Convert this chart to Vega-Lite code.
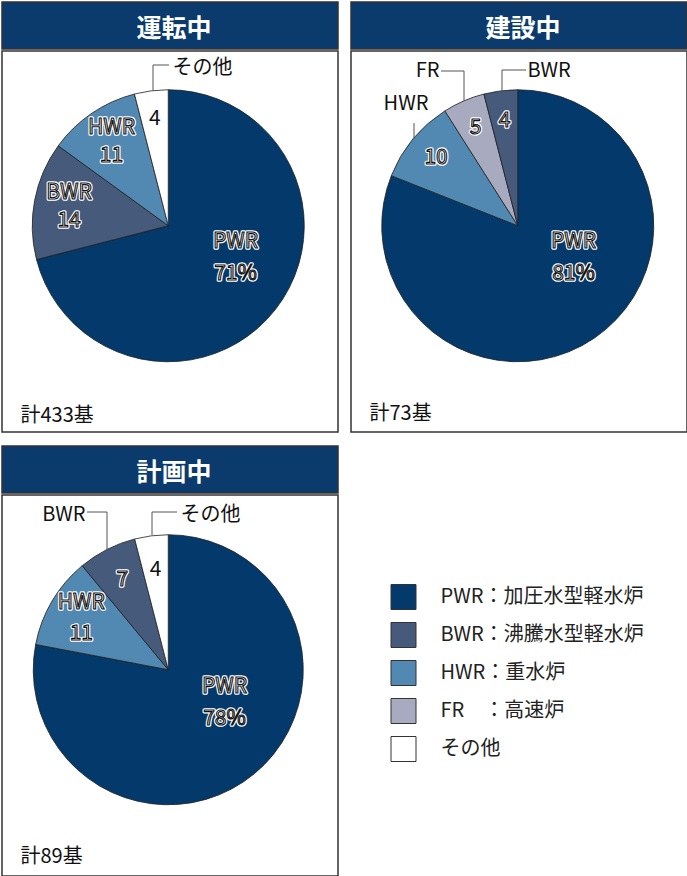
{
  "$schema": "https://vega.github.io/schema/vega-lite/v6.json",
  "padding": {"top": 1, "left": 1, "right": 0, "bottom": 0},
  "background": "white",
  "config": {"font": "Noto Sans CJK JP", "view": {"stroke": null}},
  "datasets": {
    "op": [
      {"type": "PWR", "value": 71, "ord": 1, "inner": "PWR\n71%"},
      {"type": "BWR", "value": 14, "ord": 2, "inner": "BWR\n14"},
      {"type": "HWR", "value": 11, "ord": 3, "inner": "HWR\n11"},
      {"type": "その他", "value": 4, "ord": 4, "inner": "4"}
    ],
    "con": [
      {"type": "PWR", "value": 81, "ord": 1, "inner": "PWR\n81%"},
      {"type": "HWR", "value": 10, "ord": 2, "inner": "10"},
      {"type": "FR", "value": 5, "ord": 3, "inner": "5"},
      {"type": "BWR", "value": 4, "ord": 4, "inner": "4"}
    ],
    "plan": [
      {"type": "PWR", "value": 78, "ord": 1, "inner": "PWR\n78%"},
      {"type": "HWR", "value": 11, "ord": 2, "inner": "HWR\n11"},
      {"type": "BWR", "value": 7, "ord": 3, "inner": "7"},
      {"type": "その他", "value": 4, "ord": 4, "inner": "4"}
    ],
    "legend": [
      {"type": "PWR", "label": "PWR：加圧水型軽水炉"},
      {"type": "BWR", "label": "BWR：沸騰水型軽水炉"},
      {"type": "HWR", "label": "HWR：重水炉"},
      {"type": "FR", "label": "FR　：高速炉"},
      {"type": "その他", "label": "その他"}
    ]
  },
  "spacing": 12,
  "vconcat": [
    {
      "spacing": 11,
      "hconcat": [
        {
          "spacing": 0,
          "vconcat": [
            {
              "width": 336, "height": 47,
              "view": {"fill": "#0a3b6c", "stroke": "#333333", "strokeWidth": 1.5},
              "data": {"values": [{"title": "運転中"}]},
              "mark": {"type": "text", "fontSize": 25, "fontWeight": "bold", "color": "white", "dx": 4, "dy": 3},
              "encoding": {"text": {"field": "title", "type": "nominal"}}
            },
            {
              "width": 336, "height": 381,
              "view": {"fill": "white", "stroke": "#333333", "strokeWidth": 1.5},
              "data": {"name": "op"},
              "layer": [
                {
                  "mark": {"type": "arc", "radius": 136, "stroke": "#1e1e1e", "strokeWidth": 0.8, "xOffset": -1.75, "yOffset": -15.75},
                  "encoding": {
                    "theta": {"field": "value", "type": "quantitative", "stack": true},
                    "order": {"field": "ord", "type": "quantitative"},
                    "color": {"field": "type", "type": "nominal", "legend": null,
                      "scale": {"domain": ["PWR", "BWR", "HWR", "FR", "その他"], "range": ["#033a6b", "#465a7c", "#5189b3", "#a8abc0", "#ffffff"]}}
                  }
                },
                {
                  "mark": {"type": "text", "radius": 101, "xOffset": -1.75, "yOffset": -15.75, "dy": -14, "fontSize": 21, "lineBreak": "\n", "lineHeight": 28, "fill": "white", "stroke": "white", "strokeWidth": 3.5, "strokeJoin": "round"},
                  "encoding": {
                    "theta": {"field": "value", "type": "quantitative", "stack": true},
                    "order": {"field": "ord", "type": "quantitative"},
                    "detail": {"field": "type", "type": "nominal"},
                    "text": {"condition": {"test": "datum.type === 'BWR' || datum.type === 'HWR'", "field": "inner", "type": "nominal"}, "value": ""}
                  }
                },
                {
                  "mark": {"type": "text", "radius": 101, "xOffset": -1.75, "yOffset": -15.75, "dy": -14, "fontSize": 21, "lineBreak": "\n", "lineHeight": 28, "fill": "white", "stroke": "#111111", "strokeWidth": 1.1},
                  "encoding": {
                    "theta": {"field": "value", "type": "quantitative", "stack": true},
                    "order": {"field": "ord", "type": "quantitative"},
                    "detail": {"field": "type", "type": "nominal"},
                    "text": {"condition": {"test": "datum.type === 'BWR' || datum.type === 'HWR'", "field": "inner", "type": "nominal"}, "value": ""}
                  }
                },
                {
                  "mark": {"type": "text", "radius": 108, "xOffset": -1.75, "yOffset": -15.75, "fontSize": 21, "color": "#111111"},
                  "encoding": {
                    "theta": {"field": "value", "type": "quantitative", "stack": true},
                    "order": {"field": "ord", "type": "quantitative"},
                    "detail": {"field": "type", "type": "nominal"},
                    "text": {"condition": {"test": "datum.type === 'その他'", "field": "inner", "type": "nominal"}, "value": ""}
                  }
                },
                {
                  "transform": [{"filter": "datum.type === 'PWR'"}],
                  "mark": {"type": "text", "dx": 65.5, "dy": 0.5, "fontSize": 21, "lineBreak": "\n", "lineHeight": 32, "fill": "white", "stroke": "white", "strokeWidth": 3.5, "strokeJoin": "round"},
                  "encoding": {"text": {"field": "inner", "type": "nominal"}}
                },
                {
                  "transform": [{"filter": "datum.type === 'PWR'"}],
                  "mark": {"type": "text", "dx": 65.5, "dy": 0.5, "fontSize": 21, "lineBreak": "\n", "lineHeight": 32, "fill": "white", "stroke": "#111111", "strokeWidth": 1.1},
                  "encoding": {"text": {"field": "inner", "type": "nominal"}}
                },
                {
                  "transform": [{"filter": "datum.type === 'その他'"}],
                  "mark": {"type": "text", "align": "left", "dx": 2.5, "dy": -173.5, "fontSize": 20, "color": "#111111"},
                  "encoding": {"text": {"field": "type", "type": "nominal"}}
                },
                {
                  "transform": [{"filter": "datum.type === 'その他'"}],
                  "mark": {"type": "rule", "color": "#555555", "strokeWidth": 1},
                  "encoding": {"x": {"value": 151}, "y": {"value": 14}, "x2": {"value": 167}, "y2": {"value": 14}}
                },
                {
                  "transform": [{"filter": "datum.type === 'その他'"}],
                  "mark": {"type": "rule", "color": "#555555", "strokeWidth": 1},
                  "encoding": {"x": {"value": 151}, "y": {"value": 14}, "x2": {"value": 151}, "y2": {"value": 40}}
                },
                {
                  "data": {"values": [{"total": "計433基"}]},
                  "mark": {"type": "text", "align": "left", "dx": -149.5, "dy": 174.5, "fontSize": 20, "color": "#111111"},
                  "encoding": {"text": {"field": "total", "type": "nominal"}}
                }
              ]
            }
          ]
        },
        {
          "spacing": 0,
          "vconcat": [
            {
              "width": 336, "height": 47,
              "view": {"fill": "#0a3b6c", "stroke": "#333333", "strokeWidth": 1.5},
              "data": {"values": [{"title": "建設中"}]},
              "mark": {"type": "text", "fontSize": 25, "fontWeight": "bold", "color": "white", "dx": 4, "dy": 3},
              "encoding": {"text": {"field": "title", "type": "nominal"}}
            },
            {
              "width": 336, "height": 381,
              "view": {"fill": "white", "stroke": "#333333", "strokeWidth": 1.5},
              "data": {"name": "con"},
              "layer": [
                {
                  "mark": {"type": "arc", "radius": 136, "stroke": "#1e1e1e", "strokeWidth": 0.8, "xOffset": -1.25, "yOffset": -15.75},
                  "encoding": {
                    "theta": {"field": "value", "type": "quantitative", "stack": true},
                    "order": {"field": "ord", "type": "quantitative"},
                    "color": {"field": "type", "type": "nominal", "legend": null,
                      "scale": {"domain": ["PWR", "BWR", "HWR", "FR", "その他"], "range": ["#033a6b", "#465a7c", "#5189b3", "#a8abc0", "#ffffff"]}}
                  }
                },
                {
                  "mark": {"type": "text", "radius": 106, "xOffset": -1.25, "yOffset": -15.75, "fontSize": 21, "fill": "white", "stroke": "white", "strokeWidth": 3.5, "strokeJoin": "round"},
                  "encoding": {
                    "theta": {"field": "value", "type": "quantitative", "stack": true},
                    "order": {"field": "ord", "type": "quantitative"},
                    "detail": {"field": "type", "type": "nominal"},
                    "text": {"condition": {"test": "datum.type === 'PWR'", "value": ""}, "field": "inner", "type": "nominal"}
                  }
                },
                {
                  "mark": {"type": "text", "radius": 106, "xOffset": -1.25, "yOffset": -15.75, "fontSize": 21, "fill": "white", "stroke": "#111111", "strokeWidth": 1.1},
                  "encoding": {
                    "theta": {"field": "value", "type": "quantitative", "stack": true},
                    "order": {"field": "ord", "type": "quantitative"},
                    "detail": {"field": "type", "type": "nominal"},
                    "text": {"condition": {"test": "datum.type === 'PWR'", "value": ""}, "field": "inner", "type": "nominal"}
                  }
                },
                {
                  "transform": [{"filter": "datum.type === 'PWR'"}],
                  "mark": {"type": "text", "dx": 54.5, "dy": 0.5, "fontSize": 21, "lineBreak": "\n", "lineHeight": 32, "fill": "white", "stroke": "white", "strokeWidth": 3.5, "strokeJoin": "round"},
                  "encoding": {"text": {"field": "inner", "type": "nominal"}}
                },
                {
                  "transform": [{"filter": "datum.type === 'PWR'"}],
                  "mark": {"type": "text", "dx": 54.5, "dy": 0.5, "fontSize": 21, "lineBreak": "\n", "lineHeight": 32, "fill": "white", "stroke": "#111111", "strokeWidth": 1.1},
                  "encoding": {"text": {"field": "inner", "type": "nominal"}}
                },
                {
                  "transform": [{"filter": "datum.type === 'FR'"}],
                  "mark": {"type": "text", "align": "right", "dx": -79.5, "dy": -170.5, "fontSize": 20, "color": "#111111"},
                  "encoding": {"text": {"field": "type", "type": "nominal"}}
                },
                {
                  "transform": [{"filter": "datum.type === 'BWR'"}],
                  "mark": {"type": "text", "align": "left", "dx": 8.5, "dy": -170.5, "fontSize": 20, "color": "#111111"},
                  "encoding": {"text": {"field": "type", "type": "nominal"}}
                },
                {
                  "transform": [{"filter": "datum.type === 'HWR'"}],
                  "mark": {"type": "text", "align": "center", "dx": -113, "dy": -137.5, "fontSize": 20, "color": "#111111"},
                  "encoding": {"text": {"field": "type", "type": "nominal"}}
                },
                {
                  "transform": [{"filter": "datum.type === 'FR'"}],
                  "mark": {"type": "rule", "color": "#555555", "strokeWidth": 1},
                  "encoding": {"x": {"value": 90}, "y": {"value": 20}, "x2": {"value": 113}, "y2": {"value": 20}}
                },
                {
                  "transform": [{"filter": "datum.type === 'FR'"}],
                  "mark": {"type": "rule", "color": "#555555", "strokeWidth": 1},
                  "encoding": {"x": {"value": 113}, "y": {"value": 20}, "x2": {"value": 113}, "y2": {"value": 50}}
                },
                {
                  "transform": [{"filter": "datum.type === 'BWR'"}],
                  "mark": {"type": "rule", "color": "#555555", "strokeWidth": 1},
                  "encoding": {"x": {"value": 151}, "y": {"value": 19}, "x2": {"value": 175}, "y2": {"value": 19}}
                },
                {
                  "transform": [{"filter": "datum.type === 'BWR'"}],
                  "mark": {"type": "rule", "color": "#555555", "strokeWidth": 1},
                  "encoding": {"x": {"value": 151}, "y": {"value": 19}, "x2": {"value": 151}, "y2": {"value": 40}}
                },
                {
                  "transform": [{"filter": "datum.type === 'HWR'"}],
                  "mark": {"type": "rule", "color": "#555555", "strokeWidth": 1},
                  "encoding": {"x": {"value": 63}, "y": {"value": 72}, "x2": {"value": 63}, "y2": {"value": 88}}
                },
                {
                  "data": {"values": [{"total": "計73基"}]},
                  "mark": {"type": "text", "align": "left", "dx": -149.5, "dy": 172.5, "fontSize": 20, "color": "#111111"},
                  "encoding": {"text": {"field": "total", "type": "nominal"}}
                }
              ]
            }
          ]
        }
      ]
    },
    {
      "spacing": 11,
      "hconcat": [
        {
          "spacing": 0,
          "vconcat": [
            {
              "width": 336, "height": 47,
              "view": {"fill": "#0a3b6c", "stroke": "#333333", "strokeWidth": 1.5},
              "data": {"values": [{"title": "計画中"}]},
              "mark": {"type": "text", "fontSize": 25, "fontWeight": "bold", "color": "white", "dx": 4, "dy": 3},
              "encoding": {"text": {"field": "title", "type": "nominal"}}
            },
            {
              "width": 336, "height": 381,
              "view": {"fill": "white", "stroke": "#333333", "strokeWidth": 1.5},
              "data": {"name": "plan"},
              "layer": [
                {
                  "mark": {"type": "arc", "radius": 135, "stroke": "#1e1e1e", "strokeWidth": 0.8, "xOffset": -1.75, "yOffset": -15.75},
                  "encoding": {
                    "theta": {"field": "value", "type": "quantitative", "stack": true},
                    "order": {"field": "ord", "type": "quantitative"},
                    "color": {"field": "type", "type": "nominal", "legend": null,
                      "scale": {"domain": ["PWR", "BWR", "HWR", "FR", "その他"], "range": ["#033a6b", "#465a7c", "#5189b3", "#a8abc0", "#ffffff"]}}
                  }
                },
                {
                  "mark": {"type": "text", "radius": 101, "xOffset": -1.75, "yOffset": -15.75, "dy": -15, "fontSize": 21, "lineBreak": "\n", "lineHeight": 31, "fill": "white", "stroke": "white", "strokeWidth": 3.5, "strokeJoin": "round"},
                  "encoding": {
                    "theta": {"field": "value", "type": "quantitative", "stack": true},
                    "order": {"field": "ord", "type": "quantitative"},
                    "detail": {"field": "type", "type": "nominal"},
                    "text": {"condition": {"test": "datum.type === 'HWR'", "field": "inner", "type": "nominal"}, "value": ""}
                  }
                },
                {
                  "mark": {"type": "text", "radius": 101, "xOffset": -1.75, "yOffset": -15.75, "dy": -15, "fontSize": 21, "lineBreak": "\n", "lineHeight": 31, "fill": "white", "stroke": "#111111", "strokeWidth": 1.1},
                  "encoding": {
                    "theta": {"field": "value", "type": "quantitative", "stack": true},
                    "order": {"field": "ord", "type": "quantitative"},
                    "detail": {"field": "type", "type": "nominal"},
                    "text": {"condition": {"test": "datum.type === 'HWR'", "field": "inner", "type": "nominal"}, "value": ""}
                  }
                },
                {
                  "mark": {"type": "text", "radius": 101, "xOffset": -1.75, "yOffset": -15.75, "fontSize": 21, "fill": "white", "stroke": "white", "strokeWidth": 3.5, "strokeJoin": "round"},
                  "encoding": {
                    "theta": {"field": "value", "type": "quantitative", "stack": true},
                    "order": {"field": "ord", "type": "quantitative"},
                    "detail": {"field": "type", "type": "nominal"},
                    "text": {"condition": {"test": "datum.type === 'BWR'", "field": "inner", "type": "nominal"}, "value": ""}
                  }
                },
                {
                  "mark": {"type": "text", "radius": 101, "xOffset": -1.75, "yOffset": -15.75, "fontSize": 21, "strokeWidth": 1.1},
                  "encoding": {
                    "theta": {"field": "value", "type": "quantitative", "stack": true},
                    "order": {"field": "ord", "type": "quantitative"},
                    "detail": {"field": "type", "type": "nominal"},
                    "text": {"condition": {"test": "datum.type === 'BWR' || datum.type === 'その他'", "field": "inner", "type": "nominal"}, "value": ""},
                    "fill": {"condition": {"test": "datum.type === 'その他'", "value": "#111111"}, "value": "white"},
                    "stroke": {"condition": {"test": "datum.type === 'その他'", "value": "transparent"}, "value": "#111111"}
                  }
                },
                {
                  "transform": [{"filter": "datum.type === 'PWR'"}],
                  "mark": {"type": "text", "dx": 54.5, "dy": 1.5, "fontSize": 21, "lineBreak": "\n", "lineHeight": 32, "fill": "white", "stroke": "white", "strokeWidth": 3.5, "strokeJoin": "round"},
                  "encoding": {"text": {"field": "inner", "type": "nominal"}}
                },
                {
                  "transform": [{"filter": "datum.type === 'PWR'"}],
                  "mark": {"type": "text", "dx": 54.5, "dy": 1.5, "fontSize": 21, "lineBreak": "\n", "lineHeight": 32, "fill": "white", "stroke": "#111111", "strokeWidth": 1.1},
                  "encoding": {"text": {"field": "inner", "type": "nominal"}}
                },
                {
                  "transform": [{"filter": "datum.type === 'BWR'"}],
                  "mark": {"type": "text", "align": "right", "dx": -84.5, "dy": -170.5, "fontSize": 20, "color": "#111111"},
                  "encoding": {"text": {"field": "type", "type": "nominal"}}
                },
                {
                  "transform": [{"filter": "datum.type === 'その他'"}],
                  "mark": {"type": "text", "align": "left", "dx": 10.5, "dy": -170.5, "fontSize": 20, "color": "#111111"},
                  "encoding": {"text": {"field": "type", "type": "nominal"}}
                },
                {
                  "transform": [{"filter": "datum.type === 'BWR'"}],
                  "mark": {"type": "rule", "color": "#555555", "strokeWidth": 1},
                  "encoding": {"x": {"value": 85}, "y": {"value": 17}, "x2": {"value": 105}, "y2": {"value": 17}}
                },
                {
                  "transform": [{"filter": "datum.type === 'BWR'"}],
                  "mark": {"type": "rule", "color": "#555555", "strokeWidth": 1},
                  "encoding": {"x": {"value": 105}, "y": {"value": 17}, "x2": {"value": 105}, "y2": {"value": 55}}
                },
                {
                  "transform": [{"filter": "datum.type === 'その他'"}],
                  "mark": {"type": "rule", "color": "#555555", "strokeWidth": 1},
                  "encoding": {"x": {"value": 150}, "y": {"value": 17}, "x2": {"value": 175}, "y2": {"value": 17}}
                },
                {
                  "transform": [{"filter": "datum.type === 'その他'"}],
                  "mark": {"type": "rule", "color": "#555555", "strokeWidth": 1},
                  "encoding": {"x": {"value": 150}, "y": {"value": 17}, "x2": {"value": 150}, "y2": {"value": 40}}
                },
                {
                  "data": {"values": [{"total": "計89基"}]},
                  "mark": {"type": "text", "align": "left", "dx": -149.5, "dy": 171.5, "fontSize": 20, "color": "#111111"},
                  "encoding": {"text": {"field": "total", "type": "nominal"}}
                }
              ]
            }
          ]
        },
        {
          "spacing": 0,
          "vconcat": [
            {
              "width": 337, "height": 132,
              "data": {"values": []},
              "mark": {"type": "point"},
              "encoding": {}
            },
            {
              "width": 337, "height": 190,
              "data": {"name": "legend"},
              "layer": [
                {
                  "mark": {"type": "point", "shape": "square", "filled": true, "size": 625, "opacity": 1, "stroke": "#333333", "strokeWidth": 1, "xOffset": -115},
                  "encoding": {
                    "y": {"field": "type", "type": "nominal", "sort": null, "axis": null,
                      "scale": {"type": "point", "domain": ["PWR", "BWR", "HWR", "FR", "その他"], "padding": 0.5}},
                    "fill": {"field": "type", "type": "nominal", "legend": null,
                      "scale": {"domain": ["PWR", "BWR", "HWR", "FR", "その他"], "range": ["#033a6b", "#465a7c", "#5189b3", "#a8abc0", "#ffffff"]}}
                  }
                },
                {
                  "mark": {"type": "text", "align": "left", "dx": -78, "fontSize": 20, "color": "#222222"},
                  "encoding": {
                    "y": {"field": "type", "type": "nominal", "sort": null, "axis": null,
                      "scale": {"type": "point", "domain": ["PWR", "BWR", "HWR", "FR", "その他"], "padding": 0.5}},
                    "text": {"field": "label", "type": "nominal"}
                  }
                }
              ]
            }
          ]
        }
      ]
    }
  ]
}
